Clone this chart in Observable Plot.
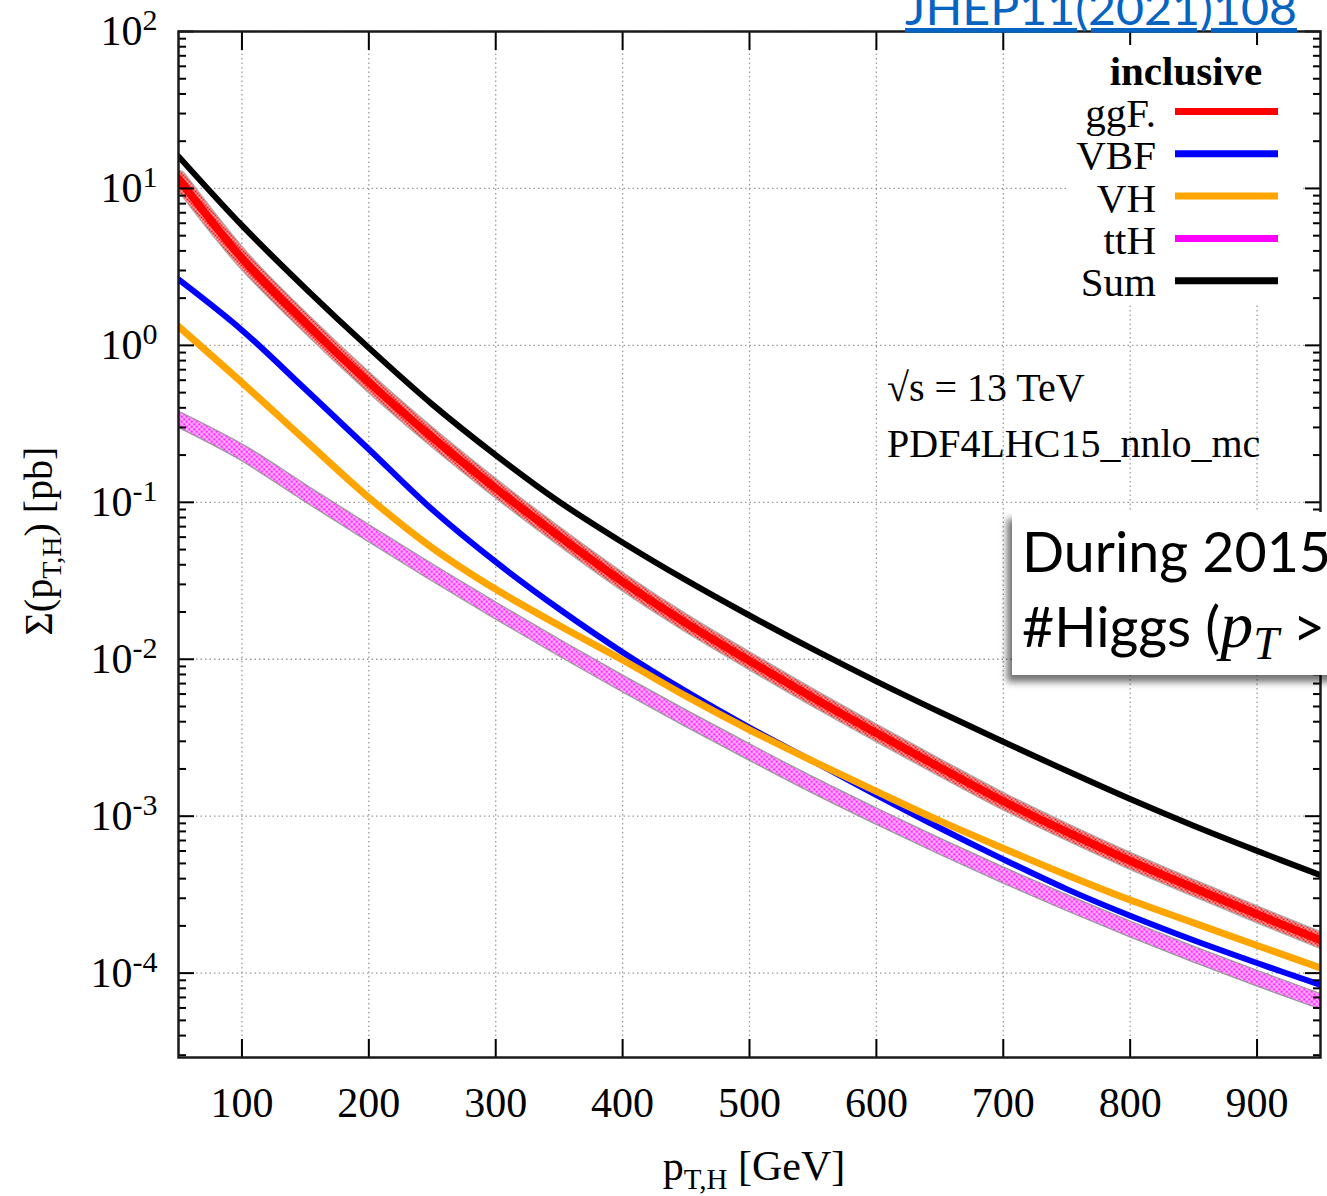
<!DOCTYPE html>
<html><head><meta charset="utf-8">
<script src="https://cdn.jsdelivr.net/npm/d3@7"></script>
<script src="https://cdn.jsdelivr.net/npm/@observablehq/plot@0.6"></script>
<style>
html,body{margin:0;padding:0;background:#fff;overflow:hidden;}
#wrap{position:relative;width:1327px;height:1196px;overflow:hidden;background:#fff;}
#note{position:absolute;left:1012px;top:512px;width:360px;height:163px;background:#fff;box-shadow:-5px 7px 7px rgba(0,0,0,0.55);}
</style></head><body><div id="wrap"></div>
<script>
// ---- data ----
const pT    = [50, 100, 150, 200, 250, 300, 350, 400, 450, 500, 550, 600, 650, 700, 750, 800, 850, 900, 950];
const sumXS = [16.0, 5.81, 2.31, 0.964, 0.421, 0.2, 0.1009, 0.0555, 0.0319, 0.0190, 0.01159, 0.00723, 0.00461, 0.00298, 0.001945, 0.001285, 0.000869, 0.000601, 0.000421];
const ggF   = [11.59, 3.59, 1.393, 0.581, 0.2594, 0.1227, 0.0608, 0.0312, 0.0170, 0.00977, 0.00569, 0.00339, 0.00204, 0.001245, 0.000794, 0.000519, 0.000349, 0.000237, 0.000162];
const VBF   = [2.63, 1.25, 0.525, 0.218, 0.0899, 0.0417, 0.0209, 0.01109, 0.00624, 0.00367, 0.00224, 0.001365, 0.000841, 0.000531, 0.000343, 0.000232, 0.000162, 0.000116, 0.0000841];
const VH    = [1.32, 0.579, 0.248, 0.1072, 0.0513, 0.0279, 0.0164, 0.00989, 0.00582, 0.00355, 0.00224, 0.001439, 0.000933, 0.000624, 0.000422, 0.000292, 0.000209, 0.00015, 0.000108];
const ttH   = [0.338, 0.208, 0.1143, 0.0635, 0.0357, 0.0204, 0.01186, 0.0070, 0.0042, 0.00256, 0.00158, 0.001, 0.000643, 0.000421, 0.000281, 0.000191, 0.000132, 0.0000929, 0.0000661];

const xTicks = [100, 200, 300, 400, 500, 600, 700, 800, 900];
const yMajor = [1e-4, 1e-3, 1e-2, 1e-1, 1, 10, 100];
const yMinor = [];
for (let k = -5; k <= 1; k++) for (let m = 2; m <= 9; m++) { const v = m * Math.pow(10, k); if (v > 2.9e-5 && v < 100) yMinor.push(v); }

const legendItems = [
  {name: "ggF.", color: "#ff0000"},
  {name: "VBF", color: "#0000ff"},
  {name: "VH", color: "#ffa500"},
  {name: "ttH", color: "#ff00ff"},
  {name: "Sum", color: "#000000"}
];

const ser = vals => pT.map((x, i) => ({x, y: vals[i]}));
const L = {x: "x", y: "y", curve: "catmull-rom", clip: true};

const svg = Plot.plot({
  width: 1327, height: 1196,
  marginLeft: 178, marginRight: 7, marginTop: 31, marginBottom: 139,
  style: {fontFamily: "'Liberation Serif', serif", fontSize: "42px", background: "#fff", color: "#000"},
  x: {domain: [50, 950], label: null},
  y: {type: "log", domain: [2.9e-5, 100], label: null},
  marks: [
    Plot.gridX({ticks: xTicks, stroke: "#9a9a9a", strokeOpacity: 1, strokeWidth: 1.3, strokeDasharray: "1.5,3"}),
    Plot.gridY({ticks: yMajor, stroke: "#9a9a9a", strokeOpacity: 1, strokeWidth: 1.3, strokeDasharray: "1.5,3"}),
    // uncertainty bands
    Plot.line(ser(ttH), {...L, stroke: "#999999", strokeWidth: 16}),
    Plot.line(ser(ttH), {...L, stroke: "url(#ttHpat)", strokeWidth: 13.5}),
    Plot.line(ser(ggF), {...L, stroke: "#aaaaaa", strokeWidth: 17}),
    Plot.line(ser(ggF), {...L, stroke: "url(#ggFpat)", strokeWidth: 14.5}),
    // central lines
    Plot.line(ser(ggF), {...L, stroke: "#ff0000", strokeWidth: 8}),
    Plot.line(ser(VBF), {...L, stroke: "#0000ff", strokeWidth: 6}),
    Plot.line(ser(VH), {...L, stroke: "#ffa500", strokeWidth: 7}),
    Plot.line(ser(sumXS), {...L, stroke: "#000000", strokeWidth: 6}),
    // ticks
    Plot.axisX({ticks: xTicks, tickSize: -18, tickFormat: () => "", label: null, strokeWidth: 2}),
    Plot.axisX({anchor: "top", ticks: xTicks, tickSize: -18, tickFormat: () => "", label: null, strokeWidth: 2}),
    Plot.axisY({ticks: yMajor, tickSize: -16, tickFormat: () => "", label: null, strokeWidth: 2}),
    Plot.axisY({ticks: yMinor, tickSize: -8, tickFormat: () => "", label: null, strokeWidth: 2}),
    Plot.axisY({anchor: "right", ticks: yMajor, tickSize: -16, tickFormat: () => "", label: null, strokeWidth: 2}),
    Plot.axisY({anchor: "right", ticks: yMinor, tickSize: -8, tickFormat: () => "", label: null, strokeWidth: 2}),
    // tick labels
    Plot.axisX({ticks: xTicks, tickSize: 0, tickPadding: 30, tickFormat: d => String(d), label: null, fontSize: 42}),
    Plot.axisY({ticks: yMajor, tickSize: 0, tickPadding: 21, tickFormat: d => "10^" + Math.round(Math.log10(d)), label: null, fontSize: 42}),
    Plot.frame({stroke: "#1a1a1a", strokeWidth: 2.5})
  ]
});

const s = d3.select(svg);
s.insert("defs", ":first-child").html(`
  <pattern id="ttHpat" patternUnits="userSpaceOnUse" width="5" height="5">
    <rect width="5" height="5" fill="#ffc4ff"/>
    <circle cx="1.25" cy="1.25" r="1.35" fill="#ff22ff"/>
    <circle cx="3.75" cy="3.75" r="1.35" fill="#ff22ff"/>
  </pattern>
  <pattern id="ggFpat" patternUnits="userSpaceOnUse" width="4" height="4">
    <rect width="4" height="4" fill="#ffc0c0"/>
    <rect width="2" height="2" fill="#ff1010"/>
    <rect x="2" y="2" width="2" height="2" fill="#ff1010"/>
  </pattern>`);

// superscript exponents on y tick labels
s.selectAll('g[aria-label="y-axis tick label"] text').each(function () {
  const t = this.textContent;
  if (!t.includes("^")) return;
  const [base, exp] = t.split("^");
  const el = d3.select(this);
  el.text(null);
  el.append("tspan").text(base);
  el.append("tspan").attr("dy", -15).style("font-size", "30px").text(exp);
});

const serif = "'Liberation Serif', serif";
// axis titles
const yt = s.append("text").attr("transform", "translate(52,541) rotate(-90)")
  .attr("text-anchor", "middle").style("font-size", "40px").style("font-family", serif);
yt.append("tspan").text("Σ(p");
yt.append("tspan").attr("dy", 9).style("font-size", "28px").text("T,H");
yt.append("tspan").attr("dy", -9).text(") [pb]");

const xt = s.append("text").attr("x", 754).attr("y", 1180)
  .attr("text-anchor", "middle").style("font-size", "42px").style("font-family", serif);
xt.append("tspan").text("p");
xt.append("tspan").attr("dy", 9).style("font-size", "29px").text("T,H");
xt.append("tspan").attr("dy", -9).text(" [GeV]");

// legend (opaque key box)
const lg = s.append("g");
lg.append("rect").attr("x", 1068).attr("y", 45).attr("width", 234).attr("height", 258).attr("fill", "#fff");
lg.append("text").attr("x", 1186).attr("y", 85).attr("text-anchor", "middle")
  .style("font-size", "41px").style("font-weight", "bold").style("font-family", serif).text("inclusive");
legendItems.forEach((d, i) => {
  const yb = 127 + i * 42.3;
  lg.append("text").attr("x", 1156).attr("y", yb).attr("text-anchor", "end")
    .style("font-size", "41px").style("font-family", serif).text(d.name);
  lg.append("line").attr("x1", 1175).attr("x2", 1278).attr("y1", yb - 15.5).attr("y2", yb - 15.5)
    .attr("stroke", d.color).attr("stroke-width", 7);
});

// annotations
s.append("text").attr("x", 887).attr("y", 401).attr("text-anchor", "start")
  .style("font-size", "40px").style("font-family", serif).text("√s = 13 TeV");
s.append("text").attr("x", 887).attr("y", 457).attr("text-anchor", "start")
  .style("font-size", "40px").style("font-family", serif).text("PDF4LHC15_nnlo_mc");

// reference link at top
s.append("text").attr("x", 905).attr("y", 25).attr("text-anchor", "start")
  .attr("textLength", 392).attr("lengthAdjust", "spacingAndGlyphs")
  .style("font-size", "47px").style("font-family", "Lato, sans-serif").style("fill", "#0563c1")
  .style("text-decoration", "underline").text("JHEP11(2021)108");

const wrap = document.getElementById("wrap");
wrap.appendChild(svg);

// overlay note box
const note = document.createElement("div");
note.id = "note";
note.innerHTML = `<svg width="360" height="163" style="display:block">
  <text x="10" y="60" text-anchor="start" style="font-family:Lato,sans-serif;font-size:55.5px;fill:#000">During 2015</text>
  <text x="10" y="135" text-anchor="start" style="font-family:Lato,sans-serif;font-size:55.5px;fill:#000">#Higgs (<tspan style="font-family:'Liberation Serif',serif;font-style:italic;font-size:66px">p</tspan><tspan dy="12" style="font-family:'Liberation Serif',serif;font-style:italic;font-size:46px">T</tspan><tspan dy="-12" dx="14">&gt;</tspan></text>
</svg>`;
wrap.appendChild(note);
</script>
</body></html>
